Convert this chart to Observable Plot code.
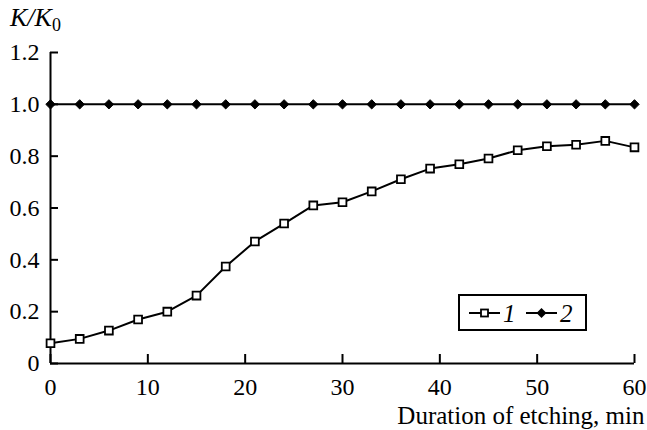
<!DOCTYPE html>
<html>
<head>
<meta charset="utf-8">
<script src="https://cdn.jsdelivr.net/npm/d3@7"></script>
<script src="https://cdn.jsdelivr.net/npm/@observablehq/plot@0.6"></script>
<style>
  html, body { margin: 0; padding: 0; background: #fff; font-family: 'Liberation Serif', serif; }
  #wrap { position: relative; width: 647px; height: 430px; font-family: 'Liberation Serif', serif !important; }
  #chart svg, #chart svg text, #chart svg g { font-family: 'Liberation Serif', serif !important; }
  #ylab { position: absolute; left: 10px; top: 5px; font-size: 26px; font-style: italic; line-height: 1; font-family: 'Liberation Serif', serif !important; }
  #ylab sub { font-style: normal; font-size: 18px; vertical-align: -5px; }
  #legend { position: absolute; left: 458px; top: 294px; width: 129px; height: 37px; border: 2px solid #000; box-sizing: border-box; background: #fff; }
</style>
</head>
<body>
<div id="wrap">
  <div id="chart"></div>
  <div id="ylab">K/K<sub>0</sub></div>
  <div id="legend"></div>
</div>
<script>
const minutes = [0, 3, 6, 9, 12, 15, 18, 21, 24, 27, 30, 33, 36, 39, 42, 45, 48, 51, 54, 57, 60];
const series1 = [0.078, 0.095, 0.127, 0.17, 0.20, 0.262, 0.374, 0.471, 0.54, 0.61, 0.622, 0.664, 0.711, 0.752, 0.769, 0.791, 0.823, 0.838, 0.844, 0.859, 0.834];
const series2 = [1, 1, 1, 1, 1, 1, 1, 1, 1, 1, 1, 1, 1, 1, 1, 1, 1, 1, 1, 1, 1];
const seriesNames = ["1", "2"];
const xTicks = [0, 10, 20, 30, 40, 50, 60];
const yTicks = [0, 0.2, 0.4, 0.6, 0.8, 1.0, 1.2];
const xLabel = "Duration of etching, min";

const d1 = minutes.map((m, i) => ({x: m, y: series1[i]}));
const d2 = minutes.map((m, i) => ({x: m, y: series2[i]}));

const chart = Plot.plot({
  width: 647,
  height: 430,
  marginLeft: 50,
  marginRight: 13,
  marginTop: 52,
  marginBottom: 67,
  style: {fontFamily: "Liberation Serif, serif", fontSize: "24px", color: "#000", background: "#fff"},
  x: {domain: [0, 60]},
  y: {domain: [0, 1.2]},
  marks: [
    Plot.axisX({ticks: xTicks, tickSize: -9, tickPadding: 23, tickFormat: d => String(d), fontSize: 24,
      strokeWidth: 2, label: null}),
    Plot.axisX({ticks: [], tickSize: 0, label: xLabel, labelAnchor: "right", labelArrow: "none", labelOffset: 60, fontSize: 25}),
    Plot.axisY({ticks: yTicks, tickSize: -8, tickPadding: 19, tickFormat: d => d === 0 ? "0" : d.toFixed(1), fontSize: 24,
      strokeWidth: 2, label: null}),
    Plot.ruleX([0], {y1: 0, y2: 1.2, strokeWidth: 2}),
    Plot.ruleY([0], {x1: 0, x2: 60, strokeWidth: 2}),
    Plot.line(d2, {x: "x", y: "y", stroke: "#000", strokeWidth: 2}),
    Plot.dot(d2, {x: "x", y: "y", symbol: "diamond2", r: 4.2, fill: "#000", stroke: "#000", strokeWidth: 1}),
    Plot.line(d1, {x: "x", y: "y", stroke: "#000", strokeWidth: 2}),
    Plot.dot(d1, {x: "x", y: "y", symbol: "square", r: 4.4, fill: "#fff", stroke: "#000", strokeWidth: 1.8})
  ]
});
document.getElementById("chart").appendChild(chart);

// legend
const ns = "http://www.w3.org/2000/svg";
const lg = document.createElementNS(ns, "svg");
lg.setAttribute("width", 125); lg.setAttribute("height", 33);
const syms = ["square", "diamond"];
const legendX = [9, 66];
seriesNames.forEach((name, i) => {
  const x0 = legendX[i];
  const line = document.createElementNS(ns, "line");
  line.setAttribute("x1", x0); line.setAttribute("x2", x0 + 31);
  line.setAttribute("y1", 17); line.setAttribute("y2", 17);
  line.setAttribute("stroke", "#000"); line.setAttribute("stroke-width", 2);
  lg.appendChild(line);
  const cx = x0 + 15.5;
  if (syms[i] === "square") {
    const r = document.createElementNS(ns, "rect");
    r.setAttribute("x", cx - 3.5); r.setAttribute("y", 13.5); r.setAttribute("width", 7); r.setAttribute("height", 7);
    r.setAttribute("fill", "#fff"); r.setAttribute("stroke", "#000"); r.setAttribute("stroke-width", 1.8);
    lg.appendChild(r);
  } else {
    const p = document.createElementNS(ns, "path");
    p.setAttribute("d", `M${cx},12 L${cx+5},17 L${cx},22 L${cx-5},17 Z`);
    p.setAttribute("fill", "#000");
    lg.appendChild(p);
  }
  const t = document.createElementNS(ns, "text");
  t.setAttribute("x", x0 + 34); t.setAttribute("y", 26);
  t.setAttribute("font-style", "italic"); t.setAttribute("font-size", 25);
  t.setAttribute("font-family", "Liberation Serif, serif");
  t.textContent = name;
  lg.appendChild(t);
});
document.getElementById("legend").appendChild(lg);
</script>
</body>
</html>
